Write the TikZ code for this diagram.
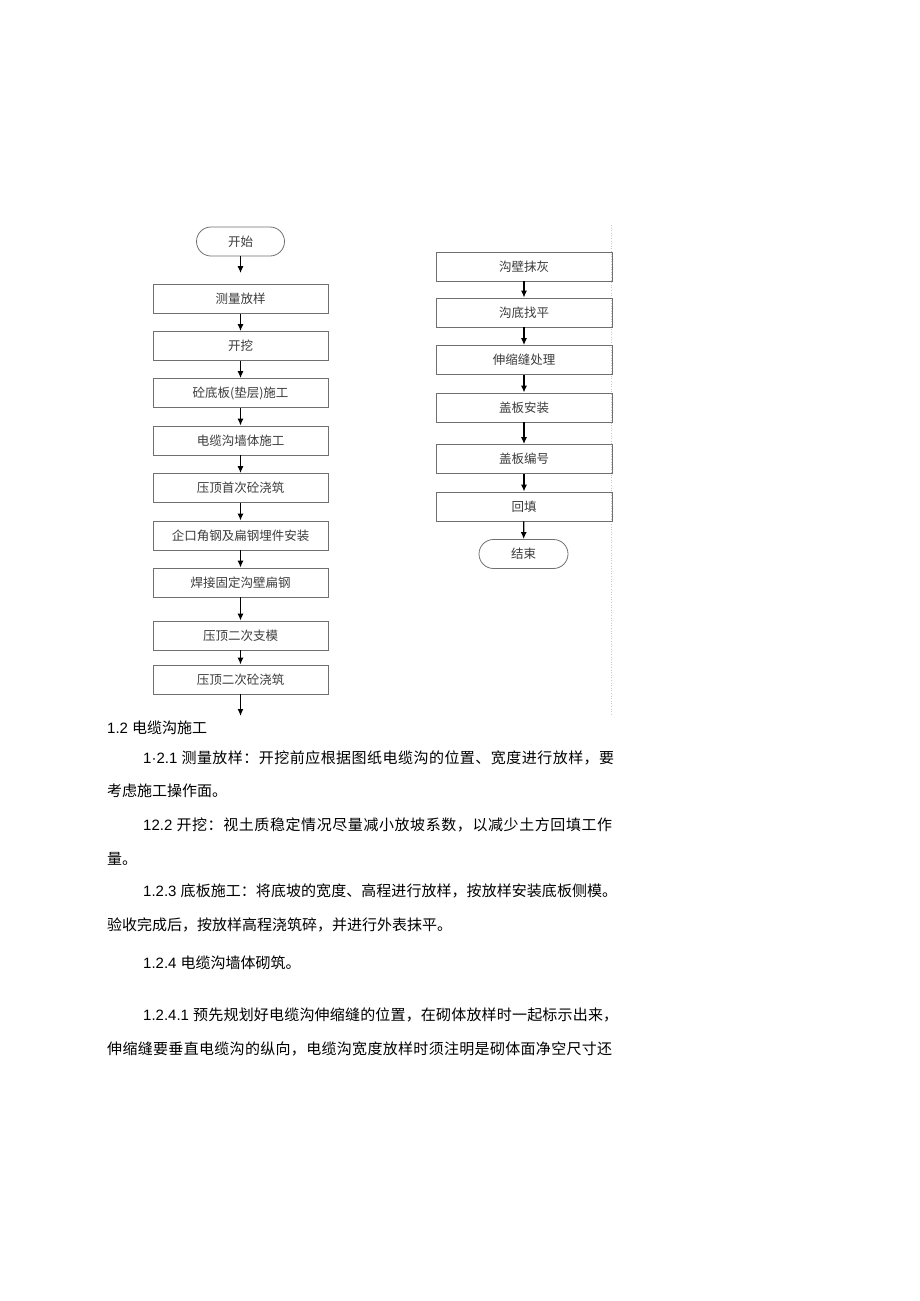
\documentclass[tikz,border=0pt]{standalone}
\usepackage{fontspec}
\setmainfont{Liberation Sans}
\newfontfamily\cjkf{Noto Sans CJK SC}
\newfontfamily\latf{Liberation Sans}
\usetikzlibrary{arrows.meta}
\definecolor{boxgray}{HTML}{707070}
\definecolor{txtgray}{HTML}{3C3C3C}
\definecolor{edgegray}{HTML}{C8C8C8}
\def\spr#1{\ifx#1\relax\else#1\hskip 0pt plus 1fil\relax\expandafter\spr\fi}
\tikzset{
  proc/.style={draw=boxgray, line width=0.8pt, minimum width=175pt, minimum height=29pt,
    inner sep=0pt, font=\fontsize{12.5}{14}\cjkf, text=txtgray},
  term/.style={proc, rounded corners=14.5pt, minimum width=88pt},
  arr/.style={-{Latex[length=7pt,width=6pt]}, line width=1.3pt, black},
  body/.style={anchor=base west, inner sep=0pt, font=\fontsize{15}{18}\selectfont, text=black}
}
\begin{document}
\begin{tikzpicture}[x=1pt,y=-1pt]
\useasboundingbox[fill=white] (0,0) rectangle (920,1301);
% faint page edge line
\draw[edgegray, line width=0.6pt, dotted] (611.5,225) -- (611.5,715);
% left column
\node[term] (start) at (240.5,241.5) {开始};
\node[proc] (a1) at (240.5,299) {测量放样};
\node[proc] (a2) at (240.5,346) {开挖};
\node[proc] (a3) at (240.5,393) {砼底板(垫层)施工};
\node[proc] (a4) at (240.5,440.5) {电缆沟墙体施工};
\node[proc] (a5) at (240.5,488) {压顶首次砼浇筑};
\node[proc] (a6) at (240.5,535.5) {企口角钢及扁钢埋件安装};
\node[proc] (a7) at (240.5,582.5) {焊接固定沟壁扁钢};
\node[proc] (a8) at (240.5,635.5) {压顶二次支模};
\node[proc] (a9) at (240.5,679.5) {压顶二次砼浇筑};
\coordinate (aend) at (240.5,716);
\draw[arr, shorten >=11pt] (start) -- (a1);
\draw[arr] (a1) -- (a2);
\draw[arr] (a2) -- (a3);
\draw[arr] (a3) -- (a4);
\draw[arr] (a4) -- (a5);
\draw[arr] (a5) -- (a6);
\draw[arr] (a6) -- (a7);
\draw[arr] (a7) -- (a8);
\draw[arr] (a8) -- (a9);
\draw[arr] (a9) -- (aend);
% right column
\node[proc, minimum width=176pt] (b1) at (524,266.5) {沟壁抹灰};
\node[proc, minimum width=176pt] (b2) at (524,312.5) {沟底找平};
\node[proc, minimum width=176pt] (b3) at (524,360) {伸缩缝处理};
\node[proc, minimum width=176pt] (b4) at (524,407.5) {盖板安装};
\node[proc, minimum width=176pt] (b5) at (524,459) {盖板编号};
\node[proc, minimum width=176pt] (b6) at (524,506.5) {回填};
\node[term, minimum width=89pt] (end) at (523.5,554) {结束};
\draw[arr] (b1) -- (b2);
\draw[arr] (b2) -- (b3);
\draw[arr] (b3) -- (b4);
\draw[arr] (b4) -- (b5);
\draw[arr] (b5) -- (b6);
\draw[arr] (b6) -- (end);
% body text
\node[body] (t0) at (107,733) {\latf 1.2 \cjkf 电缆沟施工};
\node[body] (t1) at (143,763.7) {\hbox to 471pt{\latf 1·2.1 \cjkf\spr 测量放样：开挖前应根据图纸电缆沟的位置、宽度进行放样，要\relax\unskip}};
\node[body] (t2) at (107,796.7) {\cjkf 考虑施工操作面。};
\node[body] (t3) at (143,830.7) {\hbox to 469pt{\latf 12.2 \cjkf\spr 开挖：视土质稳定情况尽量减小放坡系数，以减少土方回填工作\relax\unskip}};
\node[body] (t4) at (107,864.7) {\cjkf 量。};
\node[body] (t5) at (143,896.7) {\hbox to 474pt{\latf 1.2.3 \cjkf\spr 底板施工：将底坡的宽度、高程进行放样，按放样安装底板侧模。\relax\unskip}};
\node[body] (t6) at (107,930.7) {\cjkf 验收完成后，按放样高程浇筑碎，并进行外表抹平。};
\node[body] (t7) at (143,968.7) {\latf 1.2.4 \cjkf 电缆沟墙体砌筑。};
\node[body] (t8) at (143,1020.7) {\hbox to 475pt{\latf 1.2.4.1 \cjkf\spr 预先规划好电缆沟伸缩缝的位置，在砌体放样时一起标示出来，\relax\unskip}};
\node[body] (t9) at (107,1054.7) {\hbox to 505pt{\cjkf\spr 伸缩缝要垂直电缆沟的纵向，电缆沟宽度放样时须注明是砌体面净空尺寸还\relax\unskip}};
\end{tikzpicture}
\end{document}
